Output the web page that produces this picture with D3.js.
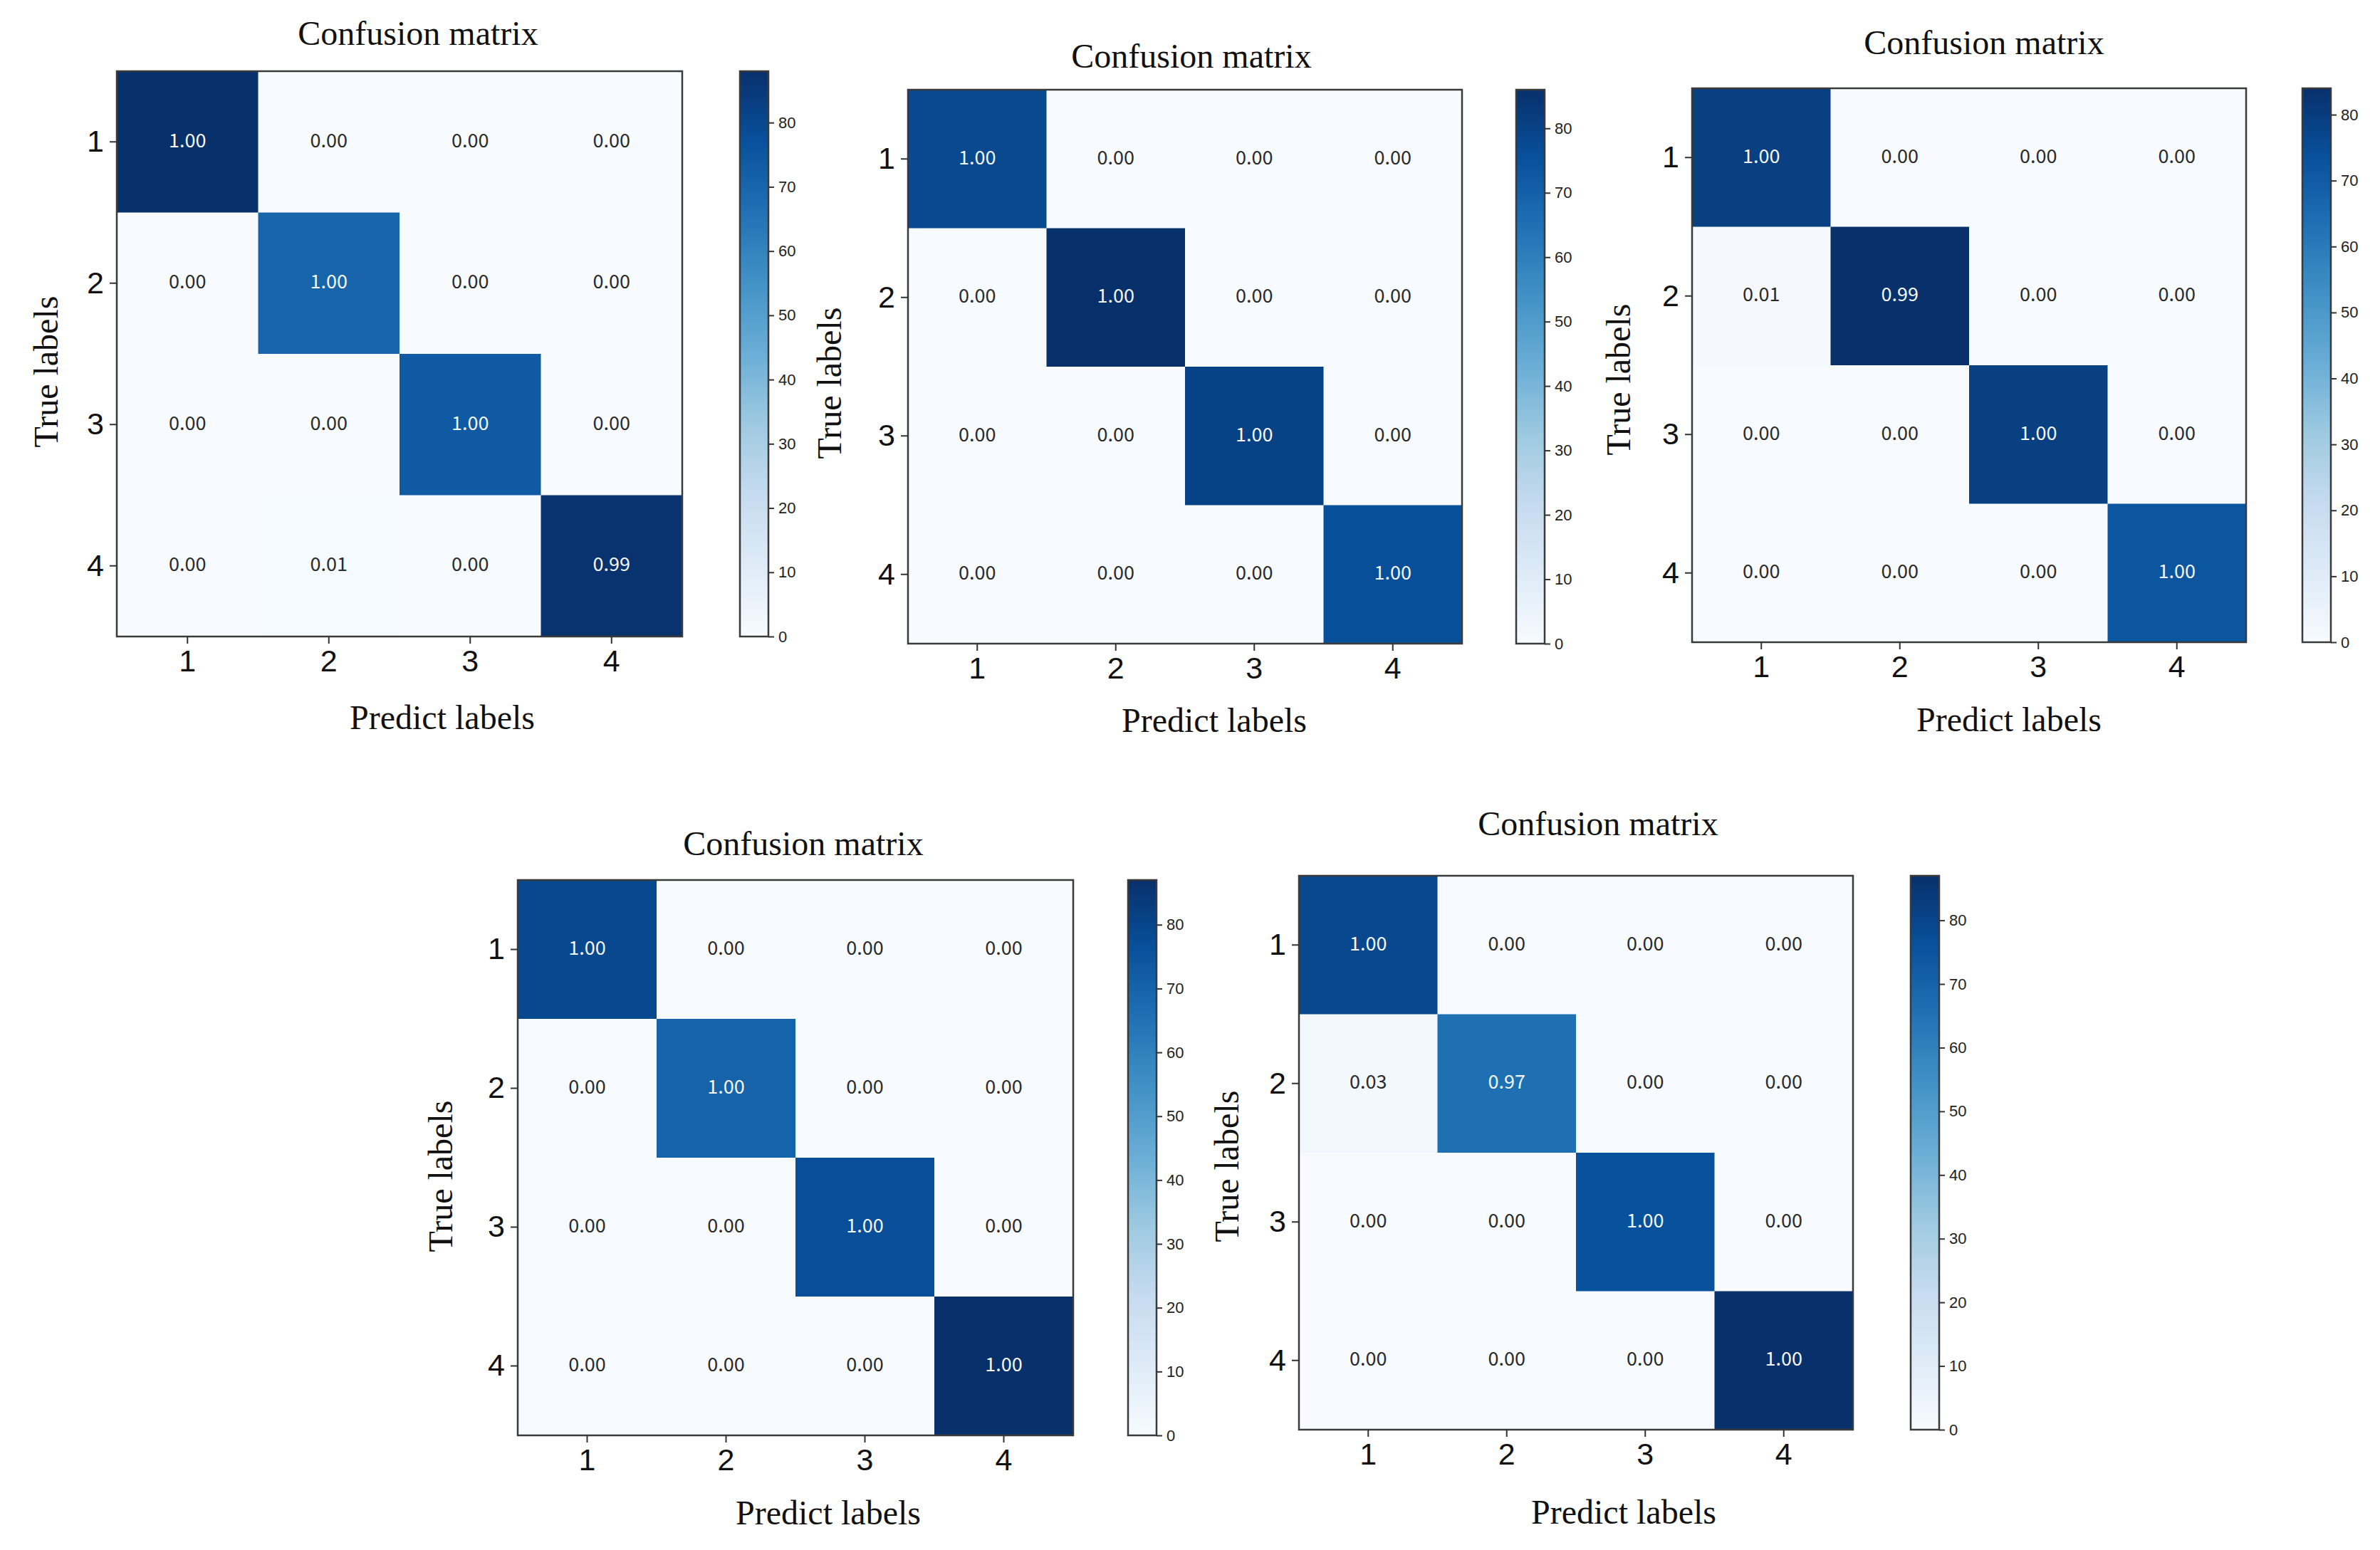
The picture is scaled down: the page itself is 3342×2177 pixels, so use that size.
<!DOCTYPE html>
<html>
<head>
<meta charset="utf-8">
<script src="https://cdn.jsdelivr.net/npm/d3@7"></script>
<style>
  html, body { margin: 0; padding: 0; background: #fff; }
  svg { display: block; }
</style>
</head>
<body>
<div id="chart"></div>
<script>
// class labels shared by every matrix
const classes = ['1', '2', '3', '4'];

// raw counts (drive the colour) read from the cell shades / colorbars
const counts1 = [[88, 0, 0, 0], [0, 70, 0, 0], [0, 0, 74, 0], [0, 1, 0, 87]];
const counts2 = [[78, 0, 0, 0], [0, 86, 0, 0], [0, 0, 80, 0], [0, 0, 0, 76]];
const counts3 = [[79, 0, 0, 0], [1, 84, 0, 0], [0, 0, 79, 0], [0, 0, 0, 72]];
const counts4 = [[79, 0, 0, 0], [0, 70, 0, 0], [0, 0, 77, 0], [0, 0, 0, 87]];
const counts5 = [[79, 0, 0, 0], [2, 66, 0, 0], [0, 0, 76, 0], [0, 0, 0, 87]];

// normalized values printed in the cells
const norm1 = [[1.00, 0.00, 0.00, 0.00], [0.00, 1.00, 0.00, 0.00], [0.00, 0.00, 1.00, 0.00], [0.00, 0.01, 0.00, 0.99]];
const norm2 = [[1.00, 0.00, 0.00, 0.00], [0.00, 1.00, 0.00, 0.00], [0.00, 0.00, 1.00, 0.00], [0.00, 0.00, 0.00, 1.00]];
const norm3 = [[1.00, 0.00, 0.00, 0.00], [0.01, 0.99, 0.00, 0.00], [0.00, 0.00, 1.00, 0.00], [0.00, 0.00, 0.00, 1.00]];
const norm4 = [[1.00, 0.00, 0.00, 0.00], [0.00, 1.00, 0.00, 0.00], [0.00, 0.00, 1.00, 0.00], [0.00, 0.00, 0.00, 1.00]];
const norm5 = [[1.00, 0.00, 0.00, 0.00], [0.03, 0.97, 0.00, 0.00], [0.00, 0.00, 1.00, 0.00], [0.00, 0.00, 0.00, 1.00]];

// colorbar ticks
const cbarTicks = [0, 10, 20, 30, 40, 50, 60, 70, 80];

const titleText = 'Confusion matrix';
const xTitle = 'Predict labels';
const yTitle = 'True labels';

// where each panel sits on the page (layout only)
const layout = [
    { x: 164, y: 100, size: 794, tdx: 26, tdy: -37, xdx: 60, xdy: 130, ydx: -100, ydy: 25, cgap: 81 },
    { x: 1275, y: 126, size: 778, tdx: 9, tdy: -31, xdx: 41, xdy: 124, ydx: -111, ydy: 23, cgap: 76 },
    { x: 2376, y: 124, size: 778, tdx: 21, tdy: -48, xdx: 56, xdy: 125, ydx: -104, ydy: 20, cgap: 79 },
    { x: 727, y: 1236, size: 780, tdx: 11, tdy: -35, xdx: 46, xdy: 125, ydx: -109, ydy: 26, cgap: 77 },
    { x: 1824, y: 1230, size: 778, tdx: 31, tdy: -57, xdx: 67, xdy: 132, ydx: -102, ydy: 19, cgap: 81 },
];

const panels = [
    { counts: counts1, norm: norm1 },
    { counts: counts2, norm: norm2 },
    { counts: counts3, norm: norm3 },
    { counts: counts4, norm: norm4 },
    { counts: counts5, norm: norm5 },
];

// matplotlib "Blues" is a linear ramp through the 9 brewer colours
const blues = d3.schemeBlues[9];

const width = 3342;
const height = 2177;

const svg = d3
    .select('#chart')
    .append('svg')
    .attr('width', width)
    .attr('height', height)
    .attr('viewBox', `0 0 ${width} ${height}`);

svg.append('rect').attr('width', width).attr('height', height).attr('fill', '#fff');

const defs = svg.append('defs');

panels.forEach((p, i) => drawPanel(p, layout[i], i));

function drawPanel(panel, lay, idx) {
    const vmax = d3.max(panel.counts.flat());
    const color = d3
        .scaleLinear()
        .domain(d3.range(9).map((k) => (k / 8) * vmax))
        .range(blues)
        .interpolate(d3.interpolateRgb)
        .clamp(true);

    const g = svg.append('g').attr('transform', `translate(${lay.x}, ${lay.y})`);

    const x = d3.scaleBand().domain(classes).range([0, lay.size]);
    const y = d3.scaleBand().domain(classes).range([0, lay.size]);

    const cells = [];
    panel.counts.forEach((row, r) => {
        row.forEach((v, c) => {
            cells.push({ row: classes[r], col: classes[c], count: v, norm: panel.norm[r][c] });
        });
    });

    g.append('g')
        .selectAll('rect')
        .data(cells)
        .join('rect')
        .attr('x', (d) => x(d.col))
        .attr('y', (d) => y(d.row))
        .attr('width', x.bandwidth() + 0.5)
        .attr('height', y.bandwidth() + 0.5)
        .attr('fill', (d) => color(d.count));

    const fmt = d3.format('.2f');
    g.append('g')
        .selectAll('text')
        .data(cells)
        .join('text')
        .attr('x', (d) => x(d.col) + x.bandwidth() / 2)
        .attr('y', (d) => y(d.row) + y.bandwidth() / 2 - 4)
        .attr('text-anchor', 'middle')
        .attr('dominant-baseline', 'central')
        .style('font-family', '"Noto Sans CJK SC", "Liberation Sans", sans-serif')
        .style('font-size', '27px')
        .style('fill', (d) => (d.norm > 0.5 ? '#f4f7fb' : '#2a2a2a'))
        .text((d) => fmt(d.norm));

    // frame
    g.append('rect')
        .attr('width', lay.size)
        .attr('height', lay.size)
        .attr('fill', 'none')
        .attr('stroke', '#3a3a3a')
        .attr('stroke-width', 2.5);

    // axes
    const xAxis = g
        .append('g')
        .attr('transform', `translate(0, ${lay.size})`)
        .call(d3.axisBottom(x).tickSize(10).tickPadding(8));
    const yAxis = g.append('g').call(d3.axisLeft(y).tickSize(10).tickPadding(8));

    [xAxis, yAxis].forEach((a) => {
        a.select('.domain').remove();
        a.selectAll('line').attr('stroke', '#333').attr('stroke-width', 2);
        a.selectAll('text')
            .style('font-family', '"Liberation Sans", Arial, sans-serif')
            .style('font-size', '43px')
            .style('fill', '#111');
    });

    // titles
    g.append('text')
        .attr('x', lay.size / 2 + lay.tdx)
        .attr('y', lay.tdy)
        .attr('text-anchor', 'middle')
        .style('font-family', '"Liberation Serif", "Times New Roman", serif')
        .style('font-size', '48px')
        .style('fill', '#111')
        .text(titleText);

    g.append('text')
        .attr('x', lay.size / 2 + lay.xdx)
        .attr('y', lay.size + lay.xdy)
        .attr('text-anchor', 'middle')
        .style('font-family', '"Liberation Serif", "Times New Roman", serif')
        .style('font-size', '48px')
        .style('fill', '#111')
        .text(xTitle);

    g.append('text')
        .attr('transform', `translate(${lay.ydx}, ${lay.size / 2 + lay.ydy}) rotate(-90)`)
        .attr('text-anchor', 'middle')
        .attr('dominant-baseline', 'central')
        .style('font-family', '"Liberation Serif", "Times New Roman", serif')
        .style('font-size', '48px')
        .style('fill', '#111')
        .text(yTitle);

    // colorbar
    const cbW = 40;
    const cb = g.append('g').attr('transform', `translate(${lay.size + lay.cgap}, 0)`);
    const gradId = 'cbar-' + idx;
    defs.append('linearGradient')
        .attr('id', gradId)
        .attr('x1', 0).attr('y1', 1)
        .attr('x2', 0).attr('y2', 0)
        .selectAll('stop')
        .data(d3.range(9))
        .join('stop')
        .attr('offset', (k) => k / 8)
        .attr('stop-color', (k) => blues[k]);

    const cScale = d3.scaleLinear().domain([0, vmax]).range([lay.size, 0]);

    cb.append('rect')
        .attr('width', cbW)
        .attr('height', lay.size)
        .attr('fill', `url(#${gradId})`)
        .attr('stroke', '#3a3a3a')
        .attr('stroke-width', 2.5);

    const cAxis = cb
        .append('g')
        .attr('transform', `translate(${cbW}, 0)`)
        .call(d3.axisRight(cScale).tickValues(cbarTicks).tickSize(8).tickPadding(6));
    cAxis.select('.domain').remove();
    cAxis.selectAll('line').attr('stroke', '#333').attr('stroke-width', 2);
    cAxis.selectAll('text')
        .style('font-family', '"Liberation Sans", Arial, sans-serif')
        .style('font-size', '22px')
        .style('fill', '#222');
}
</script>
</body>
</html>
